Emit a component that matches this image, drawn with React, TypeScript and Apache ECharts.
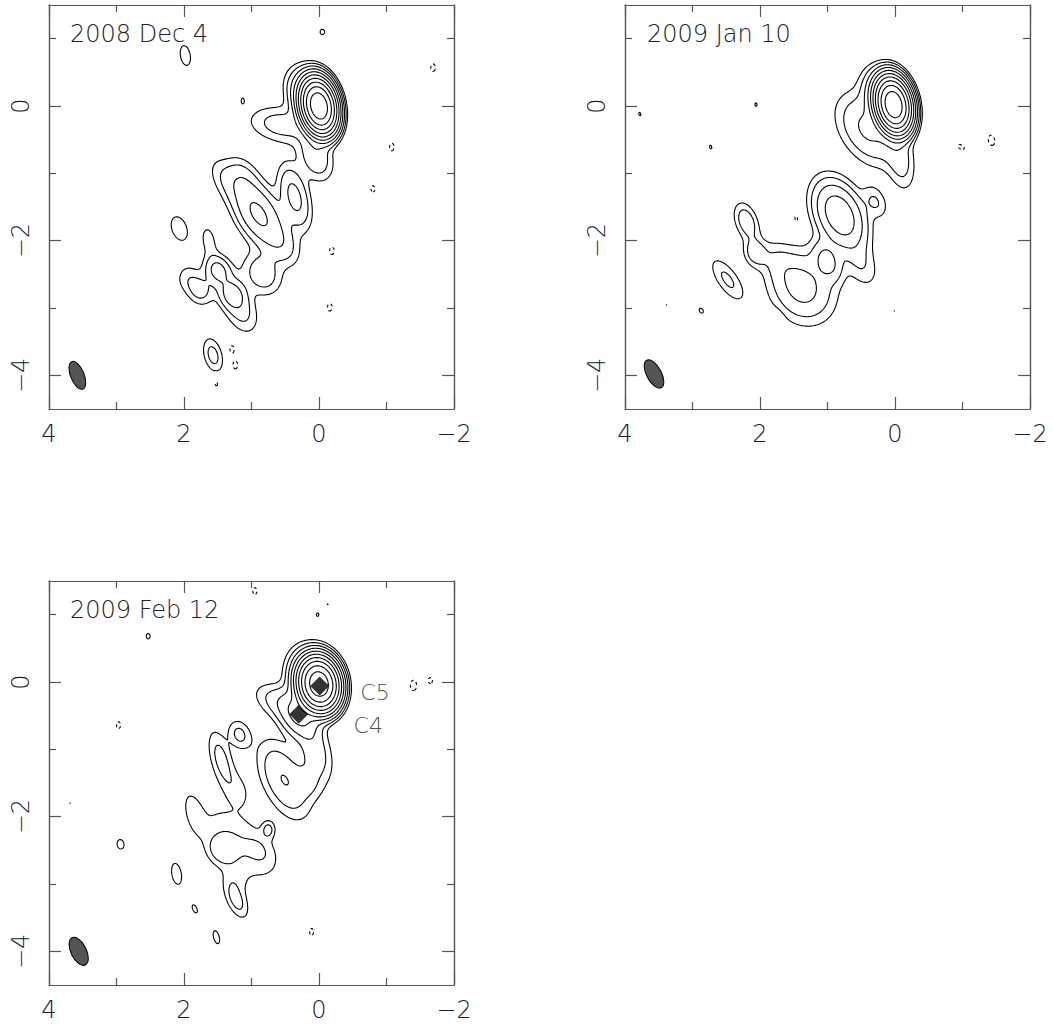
import React, { useEffect, useRef } from "react";
import * as echarts from "echarts";

// ---------- data ----------
const contourLevels = [-1, 1, 2, 4, 8, 16, 32, 64, 128, 256, 512];
const yMajorTicks = [-4, -2, 0];
const yMinorTicks = [-3, -1, 1];
const panelTitles = ["2008 Dec 4", "2009 Jan 10", "2009 Feb 12"];

// components: [x, y, peak, fwhmMajor, fwhmMinor, positionAngleDeg]
const dec4Components = [
  [0.0, 0.0, 930, 0.42, 0.26, 12],
  [0.15, 0.15, 10, 0.55, 0.38, 25],
  [0.55, -0.28, 2.8, 0.75, 0.4, 80],
  [0.05, -0.75, 3.6, 0.55, 0.35, 20],
  [0.36, -1.35, 5.0, 0.7, 0.3, 15],
  [0.9, -1.6, 9, 0.75, 0.42, 30],
  [1.15, -1.05, 2.2, 0.5, 0.35, 30],
  [1.4, -1.1, 1.5, 0.6, 0.3, 30],
  [0.55, -2.05, 2.4, 0.55, 0.35, 30],
  [0.84, -2.49, 3.2, 0.5, 0.4, 30],
  [1.5, -2.44, 4.6, 0.32, 0.26, 25],
  [1.28, -2.8, 4.6, 0.32, 0.26, 25],
  [1.39, -2.62, 1.2, 0.6, 0.4, 25],
  [1.77, -2.74, 2.6, 0.35, 0.28, 25],
  [1.63, -2.0, 1.4, 0.45, 0.2, 10],
  [1.95, -2.55, 1.3, 0.35, 0.3, 0],
  [1.15, -3.05, 2.4, 0.55, 0.35, 25],
  [2.07, -1.82, 1.35, 0.55, 0.33, 20],
  [1.57, -3.7, 2.6, 0.42, 0.22, 15],
  [1.98, 0.75, 1.35, 0.45, 0.22, 10],
  [-0.05, 1.1, 1.15, 0.18, 0.15, 0],
  [1.13, 0.08, 1.1, 0.15, 0.08, 0],
  [-1.69, 0.57, -1.25, 0.2, 0.12, 0],
  [-1.08, -0.61, -1.25, 0.2, 0.12, 0],
  [-0.8, -1.23, -1.2, 0.18, 0.12, 0],
  [-0.19, -2.15, -1.25, 0.2, 0.12, 0],
  [-0.16, -2.99, -1.25, 0.2, 0.12, 0],
  [1.29, -3.61, -1.25, 0.2, 0.12, 0],
  [1.24, -3.85, -1.25, 0.2, 0.12, 0],
  [1.52, -4.12, -1.2, 0.18, 0.12, 0],
];

const jan10Components = [
  [0.02, 0.02, 930, 0.42, 0.26, 12],
  [0.15, 0.15, 10, 0.55, 0.38, 25],
  [0.4, -0.35, 4.5, 0.85, 0.55, 35],
  [-0.08, -0.8, 2.5, 0.7, 0.3, 10],
  [0.82, -1.62, 13, 0.72, 0.45, 25],
  [0.29, -1.42, 2.05, 0.4, 0.25, 25],
  [1.0, -2.3, 4.5, 0.45, 0.28, 25],
  [0.5, -2.35, 1.8, 0.6, 0.35, 25],
  [1.38, -2.68, 5.2, 0.8, 0.65, 30],
  [2.2, -1.72, 3.2, 0.45, 0.25, 20],
  [2.07, -2.18, 3.0, 0.32, 0.25, 20],
  [1.75, -2.3, 1.3, 0.5, 0.35, 30],
  [2.48, -2.58, 2.3, 0.6, 0.25, 35],
  [3.39, -2.96, 1.04, 0.08, 0.06, 0],
  [2.87, -3.04, 1.15, 0.18, 0.12, 30],
  [3.78, -0.12, 1.1, 0.15, 0.08, 20],
  [2.06, 0.02, 1.1, 0.15, 0.09, 10],
  [2.73, -0.61, 1.1, 0.16, 0.09, 15],
  [0.01, -3.05, 1.03, 0.07, 0.05, 0],
  [-0.98, -0.61, -1.2, 0.2, 0.12, 60],
  [-1.43, -0.51, -1.3, 0.25, 0.15, 10],
  [1.46, -1.67, -1.2, 0.2, 0.12, 10],
  [1.75, -3.19, -1.3, 0.22, 0.15, 10],
];

const feb12Components = [
  [0.0, -0.03, 900, 0.4, 0.3, 10],
  [0.1, 0.05, 10, 0.6, 0.45, 20],
  [0.3, -0.5, 9, 0.5, 0.35, 30],
  [0.6, -0.3, 2.6, 0.6, 0.35, 60],
  [0.05, -1.05, 3.0, 0.7, 0.35, 15],
  [0.15, -1.5, 1.5, 0.4, 0.3, 20],
  [0.52, -1.45, 4.05, 0.9, 0.45, 25],
  [1.45, -1.15, 2.6, 0.7, 0.25, 15],
  [1.18, -0.78, 2.4, 0.35, 0.25, 20],
  [1.2, -1.6, 1.2, 0.5, 0.3, 20],
  [1.2, -2.4, 2.0, 1.1, 0.6, 45],
  [1.45, -2.5, 2.5, 0.35, 0.3, 30],
  [0.75, -2.19, 2.3, 0.2, 0.15, 0],
  [0.85, -2.5, 1.0, 0.45, 0.3, 30],
  [1.85, -1.95, 1.5, 0.55, 0.22, 15],
  [1.25, -2.95, 1.0, 0.4, 0.3, 20],
  [1.22, -3.25, 2.5, 0.45, 0.22, 25],
  [2.11, -2.85, 1.4, 0.45, 0.2, 10],
  [1.84, -3.37, 1.2, 0.25, 0.12, 25],
  [1.52, -3.79, 1.25, 0.35, 0.15, 15],
  [2.94, -2.41, 1.25, 0.25, 0.18, 10],
  [2.53, 0.68, 1.15, 0.18, 0.13, 0],
  [3.69, -1.8, 1.03, 0.08, 0.06, 0],
  [3.28, -0.58, 1.01, 0.04, 0.04, 0],
  [0.02, 1.0, 1.1, 0.14, 0.1, 0],
  [-0.13, 1.15, 1.05, 0.08, 0.07, 0],
  [2.97, -0.64, -1.2, 0.2, 0.12, 0],
  [0.95, 1.35, -1.2, 0.2, 0.12, 0],
  [0.11, -3.71, -1.2, 0.2, 0.12, 0],
  [-1.4, -0.05, -1.3, 0.25, 0.15, 0],
  [-1.65, 0.02, -1.2, 0.18, 0.12, 0],
];

// beam: [x, y, fwhmMajor, fwhmMinor, positionAngleDeg]
const beams = [
  [3.58, -4.0, 0.44, 0.2, 22],
  [3.57, -3.98, 0.46, 0.22, 28],
  [3.56, -4.0, 0.45, 0.23, 26],
];

const feb12Markers = [
  [-0.01, -0.06],
  [0.3, -0.48],
];
const feb12LabelNames = ["C5", "C4"];
const feb12LabelPositions = [
  [-0.83, -0.16],
  [-0.73, -0.65],
];

// ---------- layout ----------
const X_MIN = -2, X_MAX = 4, Y_MIN = -4.5, Y_MAX = 1.5;
const STEP = 0.015;
const grids = [
  { left: 49, top: 5, width: 405, height: 404 },
  { left: 625, top: 5, width: 405, height: 404 },
  { left: 49, top: 581, width: 405, height: 404 },
];
const titlePos = [
  [70, 36],
  [647, 36],
  [70, 612],
];

const FONT = "DejaVu Sans";
const FONT_WEIGHT = 200;
const AXIS_COLOR = "#555";
const TEXT_COLOR = "#222";

type Poly = { pts: number[][]; neg: boolean };

function buildContours(comps: number[][]): Poly[] {
  const nx = Math.round((X_MAX - X_MIN) / STEP) + 1;
  const ny = Math.round((Y_MAX - Y_MIN) / STEP) + 1;
  const f = new Float64Array(nx * ny);
  for (const c of comps) {
    const [cx, cy, peak, maj, min, pa] = c;
    const th = (pa * Math.PI) / 180;
    const ux = Math.sin(th), uy = Math.cos(th);
    const vx = Math.cos(th), vy = -Math.sin(th);
    const ka = (4 * Math.LN2) / (maj * maj);
    const kb = (4 * Math.LN2) / (min * min);
    const rc = (maj / 2) * Math.sqrt(Math.log(Math.abs(peak) / 0.002) / Math.LN2);
    const i0 = Math.max(0, Math.floor((cx - rc - X_MIN) / STEP));
    const i1 = Math.min(nx - 1, Math.ceil((cx + rc - X_MIN) / STEP));
    const j0 = Math.max(0, Math.floor((cy - rc - Y_MIN) / STEP));
    const j1 = Math.min(ny - 1, Math.ceil((cy + rc - Y_MIN) / STEP));
    for (let j = j0; j <= j1; j++) {
      const dy = Y_MIN + j * STEP - cy;
      for (let i = i0; i <= i1; i++) {
        const dx = X_MIN + i * STEP - cx;
        const a = dx * ux + dy * uy;
        const b = dx * vx + dy * vy;
        f[j * nx + i] += peak * Math.exp(-(ka * a * a + kb * b * b));
      }
    }
  }
  const HOFF = nx * ny;
  const out: Poly[] = [];
  for (const L of contourLevels) {
    const A: number[] = [];
    const B: number[] = [];
    const adj = new Map<number, number[]>();
    const add = (e1: number, e2: number) => {
      const s = A.length;
      A.push(e1);
      B.push(e2);
      let l1 = adj.get(e1);
      if (!l1) { l1 = []; adj.set(e1, l1); }
      l1.push(s);
      let l2 = adj.get(e2);
      if (!l2) { l2 = []; adj.set(e2, l2); }
      l2.push(s);
    };
    for (let j = 0; j < ny - 1; j++) {
      for (let i = 0; i < nx - 1; i++) {
        const k = j * nx + i;
        const v00 = f[k], v10 = f[k + 1], v01 = f[k + nx], v11 = f[k + nx + 1];
        const c = (v00 > L ? 1 : 0) | (v10 > L ? 2 : 0) | (v11 > L ? 4 : 0) | (v01 > L ? 8 : 0);
        if (c === 0 || c === 15) continue;
        const eB = k, eT = k + nx, eL = HOFF + k, eR = HOFF + k + 1;
        switch (c) {
          case 1: case 14: add(eL, eB); break;
          case 2: case 13: add(eB, eR); break;
          case 3: case 12: add(eL, eR); break;
          case 4: case 11: add(eR, eT); break;
          case 6: case 9: add(eB, eT); break;
          case 7: case 8: add(eL, eT); break;
          case 5: {
            const ctr = (v00 + v10 + v01 + v11) / 4;
            if (ctr > L) { add(eB, eR); add(eL, eT); } else { add(eL, eB); add(eR, eT); }
            break;
          }
          case 10: {
            const ctr = (v00 + v10 + v01 + v11) / 4;
            if (ctr > L) { add(eL, eB); add(eR, eT); } else { add(eB, eR); add(eL, eT); }
            break;
          }
        }
      }
    }
    const pointOf = (id: number): number[] => {
      if (id < HOFF) {
        const i = id % nx, j = Math.floor(id / nx);
        const t = (L - f[id]) / (f[id + 1] - f[id]);
        return [X_MIN + (i + t) * STEP, Y_MIN + j * STEP];
      }
      const k = id - HOFF;
      const i = k % nx, j = Math.floor(k / nx);
      const t = (L - f[k]) / (f[k + nx] - f[k]);
      return [X_MIN + i * STEP, Y_MIN + (j + t) * STEP];
    };
    const used = new Uint8Array(A.length);
    const walk = (start: number, acc: number[]) => {
      let cur = start;
      while (true) {
        const list = adj.get(cur)!;
        let nxt = -1;
        for (const t of list) if (!used[t]) { nxt = t; break; }
        if (nxt < 0) break;
        used[nxt] = 1;
        cur = A[nxt] === cur ? B[nxt] : A[nxt];
        acc.push(cur);
      }
    };
    for (let s = 0; s < A.length; s++) {
      if (used[s]) continue;
      used[s] = 1;
      const fwd = [A[s], B[s]];
      walk(B[s], fwd);
      const back: number[] = [];
      walk(A[s], back);
      const chain = back.reverse().concat(fwd);
      out.push({ pts: chain.map(pointOf), neg: L < 0 });
    }
  }
  return out;
}

const fmt = (v: number) => (v < 0 ? "\u2212" + Math.abs(v) : String(v));

export default function App() {
  const ref = useRef<HTMLDivElement>(null);
  useEffect(() => {
    if (!ref.current) return;
    const chart = echarts.init(ref.current, null, { renderer: "svg" });
    const allComps = [dec4Components, jan10Components, feb12Components];
    const lineStyle = { color: AXIS_COLOR, width: 1.2 };
    const axisLine = { show: true, onZero: false, lineStyle };
    const xAxis: any[] = [];
    const yAxis: any[] = [];
    const series: any[] = [];
    const graphic: any[] = [];
    grids.forEach((g, p) => {
      const baseX = {
        gridIndex: p, type: "value", min: X_MIN, max: X_MAX, interval: 2, inverse: true,
        axisLine,
        axisTick: { show: true, inside: true, length: 12, lineStyle },
        minorTick: { show: true, splitNumber: 2, length: 7, lineStyle },
        splitLine: { show: false }, minorSplitLine: { show: false },
      };
      xAxis.push({
        ...baseX, position: "bottom",
        axisLabel: { show: true, margin: 13, fontSize: 24, fontFamily: FONT, fontWeight: FONT_WEIGHT, color: TEXT_COLOR, formatter: fmt, showMinLabel: true, showMaxLabel: true },
      });
      xAxis.push({ ...baseX, position: "top", axisLabel: { show: false } });
      const baseY = {
        gridIndex: p, type: "value", min: Y_MIN, max: Y_MAX,
        axisLine,
        splitLine: { show: false },
      };
      yAxis.push({
        ...baseY, position: "left",
        axisTick: { show: true, inside: true, length: 12, lineStyle, customValues: yMajorTicks },
        axisLabel: { show: true, rotate: 90, margin: 16, fontSize: 24, fontFamily: FONT, fontWeight: FONT_WEIGHT, color: TEXT_COLOR, formatter: fmt, customValues: yMajorTicks },
      });
      yAxis.push({
        ...baseY, position: "left",
        axisTick: { show: true, inside: true, length: 7, lineStyle, customValues: yMinorTicks },
        axisLabel: { show: false },
      });
      yAxis.push({
        ...baseY, position: "right",
        axisTick: { show: true, inside: true, length: 12, lineStyle, customValues: yMajorTicks },
        axisLabel: { show: false },
      });
      yAxis.push({
        ...baseY, position: "right",
        axisTick: { show: true, inside: true, length: 7, lineStyle, customValues: yMinorTicks },
        axisLabel: { show: false },
      });
      const xi = p * 2, yi = p * 4;
      const polys = buildContours(allComps[p]);
      series.push({
        type: "custom",
        coordinateSystem: "cartesian2d",
        xAxisIndex: xi, yAxisIndex: yi,
        clip: true, silent: true, progressive: 0,
        data: polys.map((pl, k) => [pl.pts[0][0], pl.pts[0][1], k]),
        encode: { x: 0, y: 1 },
        renderItem: (params: any, api: any) => {
          const pl = polys[params.dataIndex];
          return {
            type: "polyline",
            shape: { points: pl.pts.map((pt) => api.coord(pt)) },
            style: { stroke: "#000", lineWidth: 1.1, fill: null, lineDash: pl.neg ? [3, 3] : null },
          };
        },
      });
      const bm = beams[p];
      series.push({
        type: "custom",
        coordinateSystem: "cartesian2d",
        xAxisIndex: xi, yAxisIndex: yi,
        silent: true,
        data: [[bm[0], bm[1]]],
        renderItem: (params: any, api: any) => {
          const c = api.coord([api.value(0), api.value(1)]);
          const sz = api.size([1, 1]);
          return {
            type: "ellipse",
            x: c[0], y: c[1],
            rotation: (bm[4] * Math.PI) / 180,
            shape: { cx: 0, cy: 0, rx: (bm[3] / 2) * sz[0], ry: (bm[2] / 2) * sz[1] },
            style: { fill: "#555", stroke: "#000", lineWidth: 1 },
          };
        },
      });
      graphic.push({
        type: "text", left: titlePos[p][0], top: titlePos[p][1] - 14,
        style: { text: panelTitles[p], fontSize: 24, fontFamily: FONT, fontWeight: FONT_WEIGHT, fill: TEXT_COLOR },
      });
      if (p === 2) {
        series.push({
          type: "scatter", xAxisIndex: xi, yAxisIndex: yi, silent: true,
          symbol: "diamond", symbolSize: 19,
          itemStyle: { color: "#000" },
          data: feb12Markers,
        });
        series.push({
          type: "scatter", xAxisIndex: xi, yAxisIndex: yi, silent: true,
          symbolSize: 1, itemStyle: { color: "rgba(0,0,0,0)" },
          data: feb12LabelPositions.map((pos, k) => [pos[0], pos[1], feb12LabelNames[k]]),
          label: {
            show: true, position: "inside", fontSize: 22, fontFamily: FONT, fontWeight: FONT_WEIGHT, color: TEXT_COLOR,
            formatter: (pp: any) => pp.data[2],
          },
        });
      }
    });
    chart.setOption({
      animation: false,
      backgroundColor: "#fff",
      grid: grids.map((g) => ({ ...g, show: false })),
      xAxis, yAxis, series, graphic,
    });
    return () => chart.dispose();
  }, []);
  return <div ref={ref} style={{ position: "fixed", left: 0, top: 0, width: 1053, height: 1024 }} />;
}
